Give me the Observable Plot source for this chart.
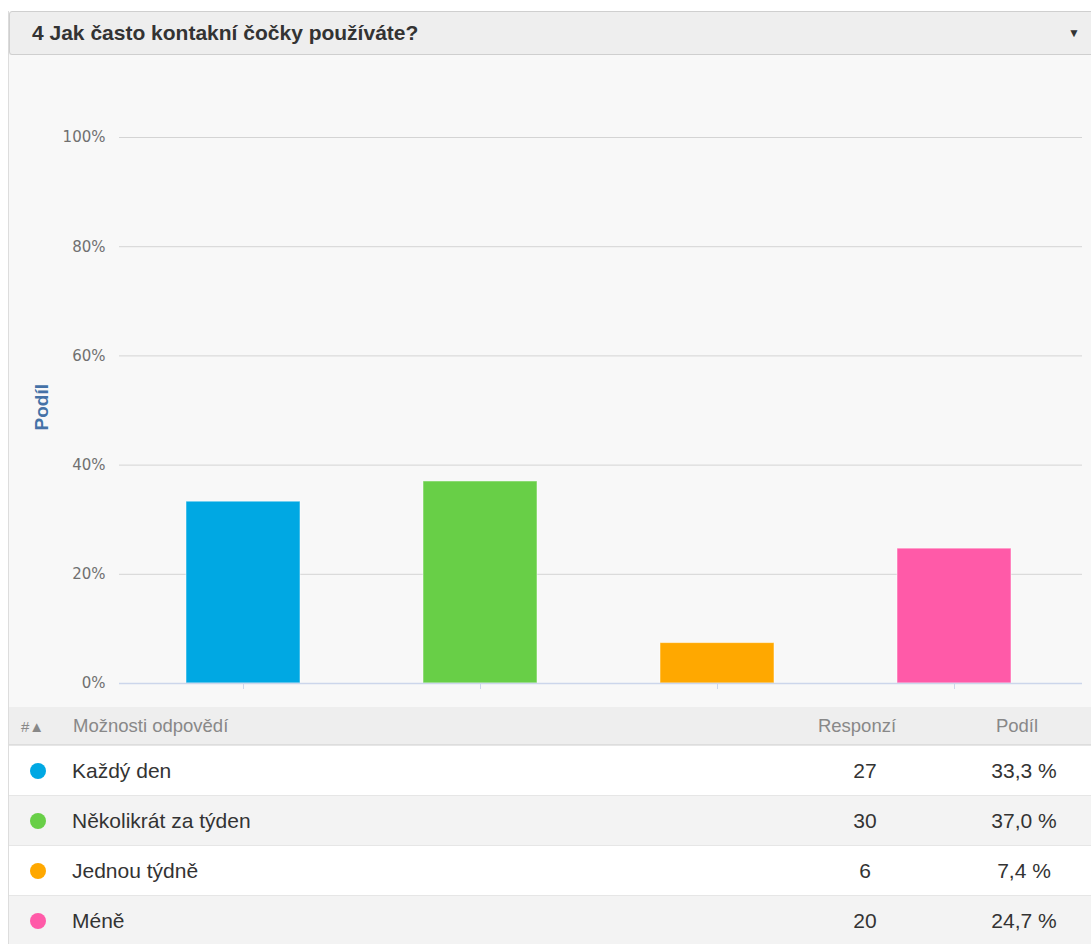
<!DOCTYPE html>
<html>
<head>
<meta charset="utf-8">
<script src="https://cdn.jsdelivr.net/npm/d3@7"></script>
<script src="https://cdn.jsdelivr.net/npm/@observablehq/plot@0.6"></script>
<style>
  html, body { margin: 0; padding: 0; background: #fff; width: 1091px; height: 944px; overflow: hidden; }
  body { font-family: "Liberation Sans", Arial, sans-serif; position: relative; }
  #panel { position: absolute; left: 8px; top: 11px; width: 1090px; height: 940px; border-left: 1px solid #ddd; }
  #head { position: absolute; left: 0; top: 0; width: 1088px; height: 42px; background: #eee; border: 1px solid #cfcfcf; border-radius: 3px; box-shadow: 0 1px 1px rgba(0,0,0,0.08); }
  #head .t { position: absolute; left: 22px; top: 50%; transform: translateY(-50%); font-weight: bold; font-size: 21px; color: #333; white-space: nowrap; }
  #head .a { position: absolute; left: 1058px; top: 14px; font-size: 12px; color: #333; }
  #chart { position: absolute; left: 0; top: 44px; width: 1083px; height: 652px; background: #f8f8f8; }
  #tbl { position: absolute; left: 0; top: 696px; width: 1083px; }
  .row { position: relative; height: 50px; border-top: 1px solid #e6e6e6; box-sizing: border-box; }
  .hrow { position: relative; height: 38px; background: #eee; border-bottom: 1px solid #ddd; box-sizing: border-box; color: #888; font-size: 18.5px; }
  .cell { position: absolute; top: 50%; transform: translateY(-50%); white-space: nowrap; }
  .dot { position: absolute; width: 16px; height: 16px; border-radius: 50%; left: 21px; top: 17px; }
  .row .lab { left: 63px; font-size: 21px; color: #333; }
  .row .num { left: 856px; transform: translate(-50%, -50%); font-size: 21px; color: #333; }
  .row .pct { left: 1015px; transform: translate(-50%, -50%); font-size: 21px; color: #333; }
</style>
</head>
<body>
<div id="panel">
  <div id="head"><span class="t">4 Jak často kontakní čočky používáte?</span><span class="a">▼</span></div>
  <div id="chart"></div>
  <div id="tbl"></div>
</div>
<script>
const categories = ["Každý den", "Několikrát za týden", "Jednou týdně", "Méně"];
const counts = [27, 30, 6, 20];
const shares = [33.3, 37.0, 7.4, 24.7];
const shareLabels = ["33,3 %", "37,0 %", "7,4 %", "24,7 %"];
const colors = ["#00a8e3", "#68cf47", "#ffa800", "#ff5aa8"];
const yTicks = [0, 20, 40, 60, 80, 100];
const yLabel = "Podíl";
const headers = ["#▲", "Možnosti odpovědí", "Responzí", "Podíl"];

const data = categories.map((c, i) => ({cat: c, share: shares[i], color: colors[i]}));

const chart = Plot.plot({
  width: 1083,
  height: 652,
  marginLeft: 110,
  marginRight: 10,
  marginTop: 82,
  marginBottom: 24,
  style: {background: "transparent", fontFamily: "'DejaVu Sans', sans-serif"},
  x: {domain: categories, paddingInner: 0.52, paddingOuter: 0.26, insetLeft: 5, insetRight: 9},
  y: {domain: [0, 100]},
  marks: [
    Plot.ruleY(yTicks.filter(d => d > 0), {stroke: "#d4d4d4", strokeWidth: 1}),
    Plot.barY(data, {x: "cat", y: "share", fill: "color", stroke: "#ffffff", strokeOpacity: 0.5, strokeWidth: 1}),
    Plot.ruleY([0], {stroke: "#ccd6eb", strokeWidth: 1.5}),
    Plot.axisX({tickFormat: null, tickSize: 6, stroke: "#ccd6eb", label: null}),
    Plot.axisY(yTicks, {tickSize: 0, tickPadding: 14, tickFormat: d => d + "%", fill: "#707070", fontSize: 15, label: null}),
    Plot.text([yLabel], {frameAnchor: "left", dx: -78, dy: 20, rotate: -90, fill: "#4572a7", fontWeight: "bold", fontSize: 19, fontFamily: "'Liberation Sans', Arial, sans-serif", text: d => d})
  ]
});
document.getElementById("chart").appendChild(chart);

const tbl = d3.select("#tbl");
const h = tbl.append("div").attr("class", "hrow");
h.append("span").attr("class", "cell").style("left", "12px").style("font-size", "15px").text(headers[0]);
h.append("span").attr("class", "cell").style("left", "64px").text(headers[1]);
h.append("span").attr("class", "cell").style("left", "848px").style("transform", "translate(-50%,-50%)").text(headers[2]);
h.append("span").attr("class", "cell").style("left", "1008px").style("transform", "translate(-50%,-50%)").text(headers[3]);

categories.forEach((c, i) => {
  const r = tbl.append("div").attr("class", "row").style("background", i % 2 ? "#f3f3f3" : "#ffffff");
  r.append("span").attr("class", "dot").style("background", colors[i]);
  r.append("span").attr("class", "cell lab").text(c);
  r.append("span").attr("class", "cell num").text(counts[i]);
  r.append("span").attr("class", "cell pct").text(shareLabels[i]);
});
</script>
</body>
</html>
